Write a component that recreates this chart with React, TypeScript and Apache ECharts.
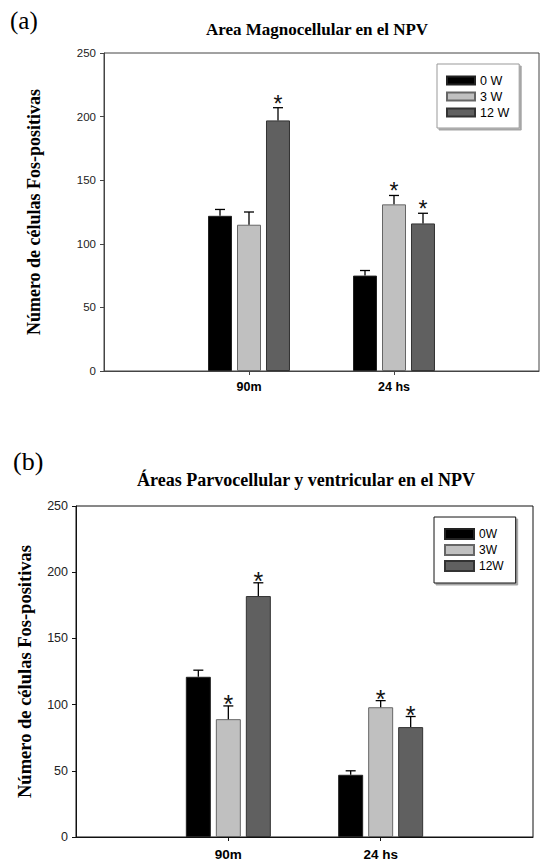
import React, { useEffect, useRef } from 'react';
import * as echarts from 'echarts';

// ---------- data ----------
const categories = ['90m', '24 hs'];
const seriesNamesA = ['0 W', '3 W', '12 W'];
const seriesNamesB = ['0W', '3W', '12W'];

// (a) Area Magnocellular en el NPV
const magno0W = [122, 75];
const magno3W = [115, 131];
const magno12W = [197, 116];
const magnoErr0W = [5, 4];
const magnoErr3W = [10, 7];
const magnoErr12W = [10, 8];
const magnoStar0W = [0, 0];
const magnoStar3W = [0, 1];
const magnoStar12W = [1, 1];

// (b) Áreas Parvocellular y ventricular en el NPV
const parvo0W = [121, 47];
const parvo3W = [89, 98];
const parvo12W = [182, 83];
const parvoErr0W = [5, 3];
const parvoErr3W = [10, 5];
const parvoErr12W = [10, 8];
const parvoStar0W = [0, 0];
const parvoStar3W = [1, 1];
const parvoStar12W = [1, 1];

const fills = ['#000000', '#c0c0c0', '#606060'];
const borders = ['#222222', '#666666', '#333333'];

const SERIF = '"Liberation Serif", "Times New Roman", serif';
const SANS = '"Liberation Sans", Arial, sans-serif';

const axisData = ['', ...categories, ''];
const padBar = (vals: number[]) => ['-', ...vals, '-'];

function makeErrSeries(
  axisIdx: number,
  vals: number[],
  errs: number[],
  stars: number[],
  offset: number,
  starSize: number,
  starDy: number
) {
  return {
    type: 'custom',
    xAxisIndex: axisIdx,
    yAxisIndex: axisIdx,
    silent: true,
    z: 5,
    encode: { x: 0, y: 1 },
    data: vals.map((v, i) => [i + 1, v, errs[i], stars[i]]),
    renderItem: (params: any, api: any) => {
      const cat = api.value(0);
      const v = api.value(1);
      const e = api.value(2);
      const s = api.value(3);
      const base = api.coord([cat, v]);
      const top = api.coord([cat, v + e]);
      const x = base[0] + offset;
      const children: any[] = [
        {
          type: 'line',
          shape: { x1: x, y1: base[1], x2: x, y2: top[1] },
          style: { stroke: '#000', lineWidth: 1.3 },
        },
        {
          type: 'line',
          shape: { x1: x - 5, y1: top[1], x2: x + 5, y2: top[1] },
          style: { stroke: '#000', lineWidth: 1.3 },
        },
      ];
      if (s) {
        children.push({
          type: 'text',
          x: x,
          y: top[1] - starDy,
          style: {
            text: '*',
            fontFamily: SANS,
            fontSize: starSize,
            fill: '#111',
            textAlign: 'center',
            textVerticalAlign: 'middle',
          },
        });
      }
      return { type: 'group', children };
    },
  };
}

function barSeries(axisIdx: number, name: string, vals: number[], k: number, width: number, gap: string) {
  return {
    type: 'bar',
    name,
    xAxisIndex: axisIdx,
    yAxisIndex: axisIdx,
    data: padBar(vals),
    barWidth: width,
    barGap: gap,
    itemStyle: { color: fills[k], borderColor: borders[k], borderWidth: 1 },
    z: 3,
  };
}

export default function App() {
  const ref = useRef<HTMLDivElement>(null);

  useEffect(() => {
    if (!ref.current) return;
    const chart = echarts.init(ref.current, undefined, { renderer: 'svg' });

    const wA = 24, gA = 5;
    const wB = 25, gB = 5;

    const xAxisBase = (grid: number, color: string, fs: number, margin: number) => ({
      type: 'category',
      gridIndex: grid,
      data: axisData,
      boundaryGap: false,
      axisLine: { show: true, lineStyle: { color, width: 1 } },
      axisTick: {
        show: true,
        inside: false,
        length: 4,
        interval: (i: number) => i === 1 || i === 2,
        lineStyle: { color },
      },
      axisLabel: {
        interval: 0,
        margin,
        fontFamily: SANS,
        fontWeight: 'bold',
        fontSize: fs,
        color: '#000',
      },
      splitLine: { show: false },
    });

    const yAxisBase = (grid: number, color: string, fs: number, nameGap: number, nameSize: number) => ({
      type: 'value',
      gridIndex: grid,
      min: 0,
      max: 250,
      interval: 50,
      axisLine: { show: true, lineStyle: { color, width: 1 } },
      axisTick: { show: true, inside: false, length: 4, lineStyle: { color } },
      axisLabel: { margin: 8, fontFamily: SANS, fontSize: fs, color: '#222' },
      splitLine: { show: false },
      name: 'Número de células Fos-positivas',
      nameLocation: 'middle',
      nameRotate: 90,
      nameGap,
      nameTextStyle: { fontFamily: SERIF, fontWeight: 'bold', fontSize: nameSize, color: '#000' },
    });

    chart.setOption({
      animation: false,
      backgroundColor: '#fff',
      grid: [
        { left: 104, top: 53, width: 441, height: 318, show: true, borderColor: '#444', borderWidth: 1, backgroundColor: 'transparent' },
        { left: 76, top: 506, width: 457, height: 333, show: true, borderColor: '#111', borderWidth: 1, backgroundColor: 'transparent' },
      ],
      xAxis: [xAxisBase(0, '#444', 12.5, 9), xAxisBase(1, '#111', 13.5, 10)],
      yAxis: [yAxisBase(0, '#444', 11.5, 61, 18), yAxisBase(1, '#111', 12.5, 42, 18.5)],
      legend: [
        {
          orient: 'vertical',
          left: 437,
          top: 64,
          data: seriesNamesA,
          icon: 'rect',
          itemWidth: 28,
          itemHeight: 8,
          itemGap: 3,
          itemTextGap: 7,
          padding: [10, 10, 9, 9],
          borderColor: '#999',
          borderWidth: 1,
          backgroundColor: '#fff',
          shadowColor: 'rgba(0,0,0,0.35)',
          shadowOffsetX: 2,
          shadowOffsetY: 2,
          shadowBlur: 0,
          selectedMode: false,
          textStyle: { fontFamily: SANS, fontSize: 12.5, color: '#000' },
        },
        {
          orient: 'vertical',
          left: 434,
          top: 517,
          data: seriesNamesB,
          icon: 'rect',
          itemWidth: 29,
          itemHeight: 10,
          itemGap: 4,
          itemTextGap: 8,
          padding: [11, 12, 11, 10],
          borderColor: '#111',
          borderWidth: 1,
          backgroundColor: '#fff',
          shadowColor: 'rgba(0,0,0,0.35)',
          shadowOffsetX: 2,
          shadowOffsetY: 2,
          shadowBlur: 0,
          selectedMode: false,
          textStyle: { fontFamily: SANS, fontSize: 12, color: '#000' },
        },
      ],
      graphic: [
        {
          type: 'text',
          x: 10,
          y: 20,
          style: { text: '(a)', fontFamily: SERIF, fontSize: 25, fill: '#000', textVerticalAlign: 'middle' },
        },
        {
          type: 'text',
          x: 317,
          y: 29,
          style: {
            text: 'Area Magnocellular en el NPV',
            fontFamily: SERIF,
            fontWeight: 'bold',
            fontSize: 17,
            fill: '#000',
            textAlign: 'center',
            textVerticalAlign: 'middle',
          },
        },
        {
          type: 'text',
          x: 13,
          y: 461,
          style: { text: '(b)', fontFamily: SERIF, fontSize: 26, fill: '#000', textVerticalAlign: 'middle' },
        },
        {
          type: 'text',
          x: 306,
          y: 480,
          style: {
            text: 'Áreas Parvocellular y ventricular en el NPV',
            fontFamily: SERIF,
            fontWeight: 'bold',
            fontSize: 18,
            fill: '#000',
            textAlign: 'center',
            textVerticalAlign: 'middle',
          },
        },
      ],
      series: [
        barSeries(0, seriesNamesA[0], magno0W, 0, wA, '20.8%'),
        barSeries(0, seriesNamesA[1], magno3W, 1, wA, '20.8%'),
        barSeries(0, seriesNamesA[2], magno12W, 2, wA, '20.8%'),
        barSeries(1, seriesNamesB[0], parvo0W, 0, wB, '20%'),
        barSeries(1, seriesNamesB[1], parvo3W, 1, wB, '20%'),
        barSeries(1, seriesNamesB[2], parvo12W, 2, wB, '20%'),
        makeErrSeries(0, magno0W, magnoErr0W, magnoStar0W, -(wA + gA), 23, 4),
        makeErrSeries(0, magno3W, magnoErr3W, magnoStar3W, 0, 23, 4),
        makeErrSeries(0, magno12W, magnoErr12W, magnoStar12W, wA + gA, 23, 4),
        makeErrSeries(1, parvo0W, parvoErr0W, parvoStar0W, -(wB + gB), 25, 2),
        makeErrSeries(1, parvo3W, parvoErr3W, parvoStar3W, 0, 25, 2),
        makeErrSeries(1, parvo12W, parvoErr12W, parvoStar12W, wB + gB, 25, 2),
      ],
    });

    return () => chart.dispose();
  }, []);

  return (
    <div
      ref={ref}
      style={{ position: 'absolute', left: 0, top: 0, width: 542, height: 861 }}
    />
  );
}
